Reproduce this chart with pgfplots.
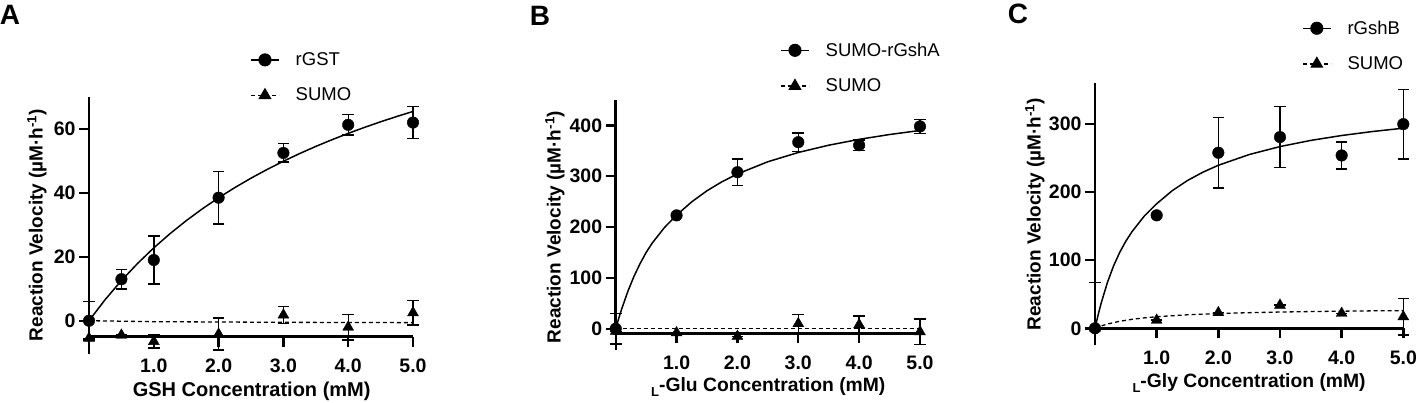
\documentclass[border=0pt]{standalone}
\usepackage{pgfplots}
\pgfplotsset{compat=1.18}
\usepackage{fontspec}
\setmainfont{Liberation Sans}

\pgfplotsset{
 panel/.style={
  scale only axis, axis lines=left, axis line style={-, line width=2.6pt},
  tick align=outside, major tick length=10pt, tick style={line width=2.4pt, black},
  xmin=0, xmax=5, xtick={1,2,3,4,5}, xticklabels={1.0,2.0,3.0,4.0,5.0},
  extra x ticks={0}, extra x tick labels={}, extra x tick style={major tick length=17pt},
  ticklabel style={font=\fontsize{19.5}{21}\selectfont\bfseries},
  xticklabel shift=9pt,
  clip=false,
  legend cell align=left,
  legend style={draw=none, fill=none, inner sep=0pt, font=\fontsize{18.5}{20}\selectfont,
     row sep=19pt, nodes={inner sep=1pt},
     /tikz/every odd column/.append style={column sep=15pt}},
  legend image code/.code={\draw[mark repeat=2,mark phase=2,##1] plot coordinates {(0pt,0pt) (14pt,0pt) (28pt,0pt)};},
 },
 dots/.style={black, only marks, mark=*, mark size=5.8pt, forget plot,
   error bars/.cd, y dir=both, y explicit,
   error bar style={line width=1.4pt, black},
   error mark options={rotate=90, mark size=5.8pt, line width=1.4pt, black}},
 tris/.style={black, only marks, mark=triangle*, mark size=6.3pt, forget plot,
   error bars/.cd, y dir=both, y explicit,
   error bar style={line width=1.4pt, black},
   error mark options={rotate=90, mark size=5.8pt, line width=1.4pt, black}},
 fit/.style={black, line width=1.5pt, no marks, forget plot},
 dfit/.style={black, line width=1.3pt, dash pattern=on 4pt off 3pt, no marks, forget plot},
 limg/.style={black, line width=1.5pt, mark=*, mark size=5.8pt},
 timg/.style={black, line width=1.3pt, dash pattern=on 4pt off 3pt, mark=triangle*, mark size=6.3pt, mark options={solid}},
}

\begin{document}
\begin{tikzpicture}[x=1pt,y=1pt]
\useasboundingbox (0,0) rectangle (1416,402);

\node[font=\fontsize{28}{30}\selectfont\bfseries] at (10,387) {A};
\node[font=\fontsize{28}{30}\selectfont\bfseries] at (540,386) {B};
\node[font=\fontsize{28}{30}\selectfont\bfseries] at (1018,388) {C};

% ---------------- A
\begin{axis}[panel, at={(89pt,65.3pt)}, anchor=south west, width=324pt, height=239.7pt,
  ymin=-5, ymax=70, ytick={0,20,40,60}, yticklabels={0,20,40,60},
  xlabel={GSH Concentration (mM)},
  xlabel style={at={(axis description cs:0.502,-0.229)}, anchor=center, font=\fontsize{20}{22}\selectfont\bfseries},
  ylabel={Reaction Velocity (µM·h\textsuperscript{-1})},
  ylabel style={at={(axis description cs:-0.161,0.466)}, anchor=center, font=\fontsize{19}{21}\selectfont\bfseries},
  legend style={at={(axis description cs:0.497,1.19)}, anchor=north west}]
\addlegendimage{limg}\addlegendentry{rGST}
\addlegendimage{timg}\addlegendentry{SUMO}
\addplot[fit] coordinates {(0,0) (0.25,6.618) (0.5,12.561) (0.75,17.927) (1,22.796) (1.25,27.235) (1.5,31.297) (1.75,35.028) (2,38.469) (2.25,41.650) (2.5,44.601) (2.75,47.346) (3,49.905) (3.25,52.297) (3.5,54.538) (3.75,56.641) (4,58.619) (4.25,60.483) (4.5,62.242) (4.75,63.904) (5,65.479)};
\addplot[dfit] coordinates {(0,0) (1,-0.3) (2,-0.4) (3,-0.5) (4,-0.55) (5,-0.6)};
\addplot[dots] coordinates {(0,0) +- (0,6) (0.5,13) +- (0,3.1) (1,19) +- (0,7.5) (2,38.5) +- (0,8.2) (3,52.5) +- (0,2.9) (4,61.3) +- (0,3.2) (5,62) +- (0,5)};
\addplot[tris] coordinates {(0,-5.5) +- (0,0) (0.5,-4.5) +- (0,0) (1,-6.5) +- (0,2) (2,-4.2) +- (0,5) (3,1.8) +- (0,2.6) (4,-2) +- (0,4) (5,2.5) +- (0,3.8)};
\end{axis}

% ---------------- B
\begin{axis}[panel, at={(615.7pt,68.7pt)}, anchor=south west, width=304.3pt, height=233.3pt,
  ymin=-9, ymax=450, ytick={0,100,200,300,400}, yticklabels={0,100,200,300,400},
  xlabel={{\fontsize{13}{13}\selectfont\raisebox{-5pt}{L}}-Glu Concentration (mM)},
  xlabel style={at={(axis description cs:0.5015,-0.229)}, anchor=center, font=\fontsize{19.3}{21}\selectfont\bfseries},
  ylabel={Reaction Velocity (µM·h\textsuperscript{-1})},
  ylabel style={at={(axis description cs:-0.2,0.456)}, anchor=center, font=\fontsize{19}{21}\selectfont\bfseries},
  legend style={at={(axis description cs:0.540,1.25)}, anchor=north west}]
\addlegendimage{limg}\addlegendentry{SUMO-rGshA}
\addlegendimage{timg}\addlegendentry{SUMO}
\addplot[fit] coordinates {(0,0) (0.05,20.5) (0.1,39.5) (0.2,73.5) (0.3,103) (0.4,128) (0.5,150) (0.6,168.5) (0.8,199) (1,223.5) (1.25,249.74) (1.5,271.44) (1.75,289.40) (2,304.50) (2.5,328.52) (3,346.75) (3.5,361.06) (4,372.59) (4.5,382.09) (5,390.04)};
\addplot[dfit] coordinates {(0,0) (5,0)};
\addplot[dots] coordinates {(0,0) +- (0,30) (1,223) +- (0,3) (2,308) +- (0,26) (3,367) +- (0,18) (4,361) +- (0,10) (5,398) +- (0,14)};
\addplot[tris] coordinates {(0,-5) +- (0,0) (1,-8) +- (0,0) (2,-15) +- (0,0) (3,10) +- (0,18) (4,8) +- (0,17) (5,-6) +- (0,25)};
\end{axis}

% ---------------- C
\begin{axis}[panel, at={(1095pt,73.7pt)}, anchor=south west, width=308.3pt, height=245pt,
  ymin=0, ymax=360, ytick={0,100,200,300}, yticklabels={0,100,200,300},
  xlabel={{\fontsize{13}{13}\selectfont\raisebox{-5pt}{L}}-Gly Concentration (mM)},
  xlabel style={at={(axis description cs:0.4997,-0.2245)}, anchor=center, font=\fontsize{19.3}{21}\selectfont\bfseries},
  ylabel={Reaction Velocity (µM·h\textsuperscript{-1})},
  ylabel style={at={(axis description cs:-0.195,0.466)}, anchor=center, font=\fontsize{19}{21}\selectfont\bfseries},
  legend style={at={(axis description cs:0.671,1.26)}, anchor=north west}]
\addlegendimage{limg}\addlegendentry{rGshB}
\addlegendimage{timg}\addlegendentry{SUMO}
\addplot[fit] coordinates {(0,0) (0.05,19.5) (0.1,37) (0.2,67) (0.3,91.5) (0.4,111.5) (0.5,128) (0.6,142) (0.8,165) (1,183.00) (1.25,202.08) (1.5,217.17) (1.75,229.41) (2,239.53) (2.5,255.30) (3,267.03) (3.5,276.08) (4,283.29) (4.5,289.15) (5,294.03)};
\addplot[dfit] coordinates {(0,0) (0.1,3.47) (0.2,6.22) (0.4,10.31) (0.6,13.19) (0.8,15.34) (1,17.00) (1.5,19.87) (2,21.69) (2.5,22.96) (3,23.89) (3.5,24.61) (4,25.17) (4.5,25.63) (5,26.00)};
\addplot[dots] coordinates {(0,0) += (0,67) -= (0,0) (1,166) +- (0,3) (2,258) +- (0,52) (3,281) +- (0,45) (4,254) +- (0,20) (5,300) +- (0,51)};
\addplot[tris] coordinates {(0,0) +- (0,0) (1,12) +- (0,0) (2,23) +- (0,0) (3,34) +- (0,0) (4,22) +- (0,0) (5,17) +- (0,27)};
\end{axis}
\end{tikzpicture}
\end{document}
